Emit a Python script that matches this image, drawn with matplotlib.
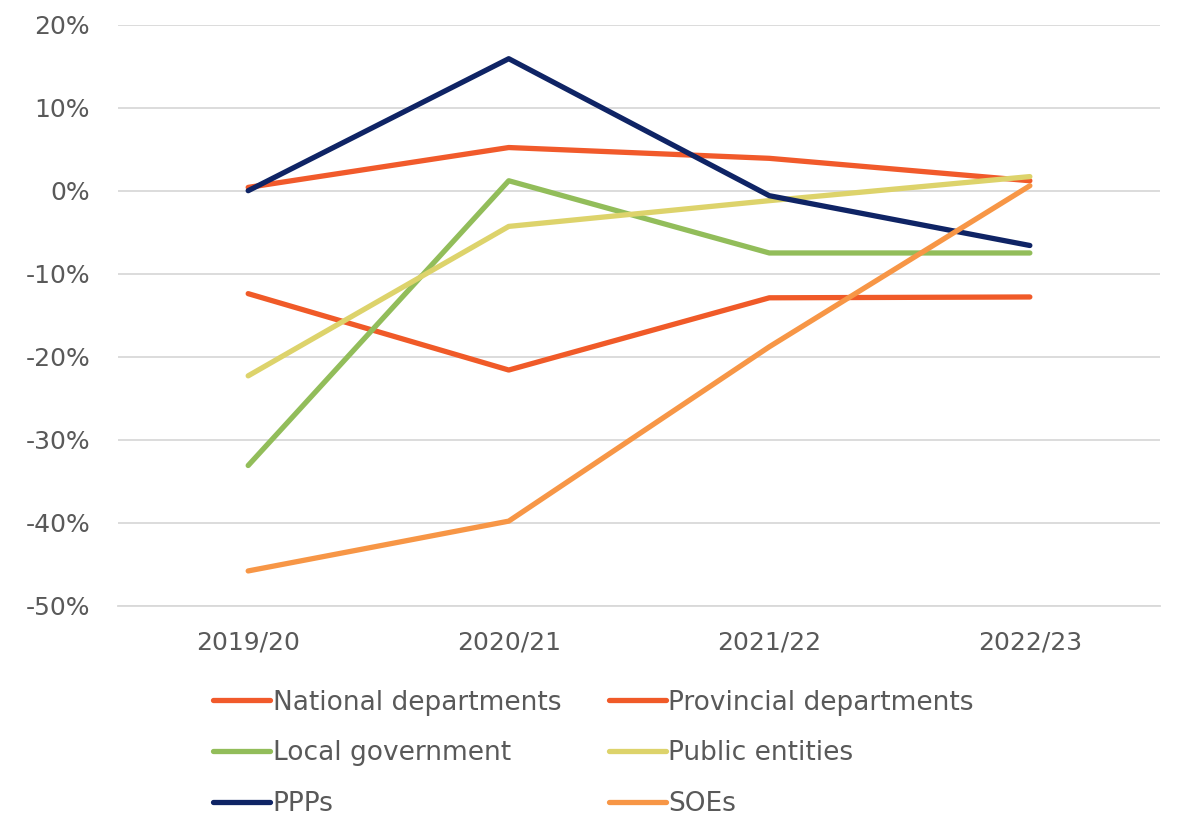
import matplotlib.pyplot as plt
from matplotlib.ticker import FuncFormatter

plt.rcParams['font.family'] = ['DejaVu Sans']

years = ['2019/20', '2020/21', '2021/22', '2022/23']

national = [0.4, 5.2, 3.9, 1.2]
provincial = [-12.4, -21.6, -12.9, -12.8]
local_gov = [-33.1, 1.2, -7.5, -7.5]
public_entities = [-22.3, -4.3, -1.2, 1.7]
ppps = [0.0, 15.9, -0.6, -6.6]
soes = [-45.8, -39.8, -18.8, 0.6]

series = [
    ('National departments', national, '#F15A2B'),
    ('Provincial departments', provincial, '#F05A28'),
    ('Local government', local_gov, '#92BD5A'),
    ('Public entities', public_entities, '#DDD36B'),
    ('PPPs', ppps, '#0F2465'),
    ('SOEs', soes, '#F79646'),
]

text_color = '#595959'

fig = plt.figure(figsize=(11.79, 8.22), dpi=100)
ax = fig.add_axes([0.100, 0.263, 0.884, 0.707])

x = range(len(years))
handles = {}
for name, vals, col in series:
    h, = ax.plot(x, vals, color=col, lw=3.8, solid_capstyle='round', label=name, zorder=3)
    handles[name] = h

ax.set_xlim(-0.5, len(years) - 0.5)
ax.set_ylim(-50, 20)
ax.set_yticks(range(-50, 21, 10))
ax.yaxis.set_major_formatter(FuncFormatter(lambda v, p: f'{int(v)}%'))
ax.set_xticks(list(x))
ax.set_xticklabels(years)
ax.grid(axis='y', color='#D9D9D9', lw=1.3)
ax.set_axisbelow(True)
for s in ['top', 'right', 'left']:
    ax.spines[s].set_visible(False)
ax.spines['bottom'].set_color('#D9D9D9')
ax.spines['bottom'].set_linewidth(1.3)
ax.tick_params(length=0, labelsize=18, colors=text_color)
ax.tick_params(axis='y', pad=20)
ax.tick_params(axis='x', pad=18)

# legend fills column by column, so reorder to read across rows
names = [s[0] for s in series]
leg_order = [names[0], names[2], names[4], names[1], names[3], names[5]]
leg = fig.legend([handles[n] for n in leg_order], leg_order, ncol=2, loc='upper left',
                 bbox_to_anchor=(0.181, 0.161), frameon=False, fontsize=19,
                 handlelength=2.15, handletextpad=0.1, columnspacing=1.8,
                 labelspacing=0.94, labelcolor=text_color, borderaxespad=0,
                 borderpad=0)

fig.savefig('out.png', dpi=100)
